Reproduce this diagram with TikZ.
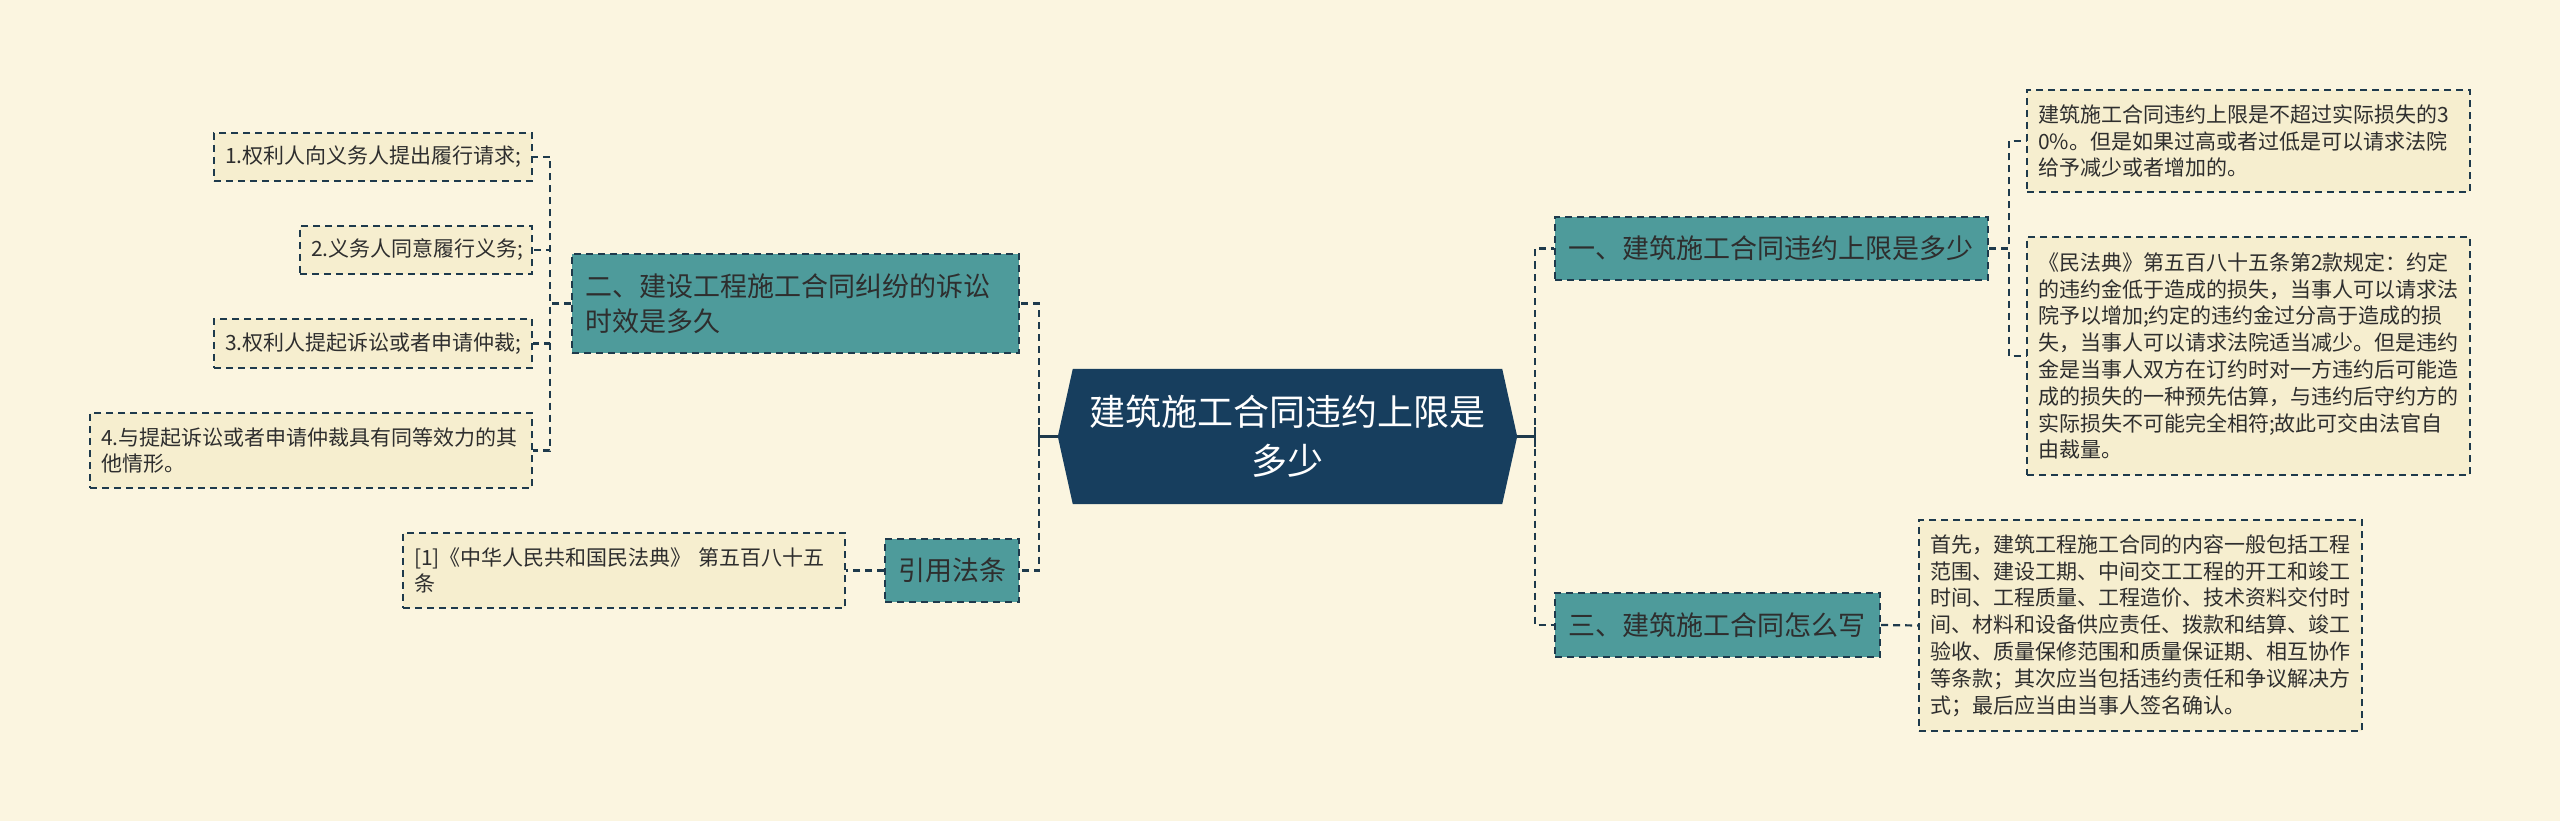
\documentclass[tikz,border=0pt]{standalone}
\usepackage{fontspec}
\setmainfont{Noto Sans CJK SC}
\usetikzlibrary{backgrounds}
\definecolor{bgcol}{HTML}{FBF5E0}
\definecolor{leafcol}{HTML}{F6EECF}
\definecolor{tealcol}{HTML}{4E9B9B}
\definecolor{navycol}{HTML}{173E5E}
\definecolor{linecol}{HTML}{1E3A4C}
\definecolor{txtcol}{HTML}{2E2E2E}
\tikzset{
  leafbox/.style={draw=linecol, line width=2pt, dash pattern=on 7pt off 5pt, fill=leafcol,
    inner xsep=11pt, inner ysep=0pt, align=left, text=txtcol,
    font=\fontsize{21}{26.8}\selectfont},
  branchbox/.style={draw=linecol, line width=2pt, dash pattern=on 7pt off 5pt, fill=tealcol,
    inner xsep=13pt, inner ysep=0pt, align=left, text=txtcol,
    font=\fontsize{27}{35}\selectfont},
  rootbox/.style={inner sep=0pt, align=center, text=white,
    font=\fontsize{36}{49}\selectfont},
  conn/.style={draw=linecol, line width=2.2pt, dash pattern=on 7pt off 5pt},
  stub/.style={draw=linecol, line width=2.4pt}
}
\begin{document}
\begin{tikzpicture}[x=1pt,y=-1pt]
\useasboundingbox (0,0) rectangle (2560,821);

% root
\node[rootbox, minimum width=459pt, minimum height=135pt] (root) at (1287.5,436.5)
  {建筑施工合同违约上限是\\多少};
\begin{scope}[on background layer]
\fill[bgcol] (0,0) rectangle (2560,821);
\fill[navycol] (root.west) -- ([xshift=15pt]root.north west) -- ([xshift=-15pt]root.north east)
  -- (root.east) -- ([xshift=-15pt]root.south east) -- ([xshift=15pt]root.south west) -- cycle;
\end{scope}

% left branches
\node[branchbox, text width=421pt, minimum height=99pt] (b2) at (795.5,303.5)
  {二、建设工程施工合同纠纷的诉讼\\时效是多久};
\node[branchbox, text width=108pt, minimum height=63pt] (ref) at (952,570.5) {引用法条};

% left leaves
\node[leafbox, text width=296pt, minimum height=48pt] (l1) at (373,157) {1.权利人向义务人提出履行请求;};
\node[leafbox, text width=210pt, minimum height=48pt] (l2) at (416,250) {2.义务人同意履行义务;};
\node[leafbox, text width=296pt, minimum height=49pt] (l3) at (373,343.5) {3.权利人提起诉讼或者申请仲裁;};
\node[leafbox, text width=420pt, minimum height=75pt] (l4) at (311,450.5)
  {4.与提起诉讼或者申请仲裁具有同等效力的其\\他情形。};
\node[leafbox, text width=420pt, minimum height=75pt] (r1) at (624,570.5)
  {[1]《中华人民共和国民法典》 第五百八十五\\条};

% right branches
\node[branchbox, text width=407pt, minimum height=63pt] (b1) at (1771.5,248.5) {一、建筑施工合同违约上限是多少};
\node[branchbox, text width=299pt, minimum height=64pt] (b3) at (1717.5,625) {三、建筑施工合同怎么写};

% right leaves
\node[leafbox, text width=421pt, minimum height=102pt] (la) at (2248.5,141)
  {建筑施工合同违约上限是不超过实际损失的3\\0\%。但是如果过高或者过低是可以请求法院\\给予减少或者增加的。};
\node[leafbox, text width=421pt, minimum height=238pt] (lb) at (2248.5,356)
  {《民法典》第五百八十五条第2款规定：约定\\的违约金低于造成的损失，当事人可以请求法\\院予以增加;约定的违约金过分高于造成的损\\失，当事人可以请求法院适当减少。但是违约\\金是当事人双方在订约时对一方违约后可能造\\成的损失的一种预先估算，与违约后守约方的\\实际损失不可能完全相符;故此可交由法官自\\由裁量。};
\node[leafbox, text width=421pt, minimum height=211pt] (lc) at (2140.5,625.5)
  {首先，建筑工程施工合同的内容一般包括工程\\范围、建设工期、中间交工工程的开工和竣工\\时间、工程质量、工程造价、技术资料交付时\\间、材料和设备供应责任、拨款和结算、竣工\\验收、质量保修范围和质量保证期、相互协作\\等条款；其次应当包括违约责任和争议解决方\\式；最后应当由当事人签名确认。};

% connectors from root
\coordinate (jl) at (1039,436.5);
\coordinate (jr) at (1535,436.5);
\draw[stub] (root.west) -- (jl);
\draw[stub] ([yshift=-10pt]jl) -- ([yshift=10pt]jl);
\draw[stub] (root.east) -- (jr);
\draw[stub] ([yshift=-10pt]jr) -- ([yshift=10pt]jr);
\draw[conn] (jl) |- (b2.east);
\draw[conn] (jl) |- (ref.east);
\draw[conn] (jr) |- (b1.west);
\draw[conn] (jr) |- (b3.west);

% secondary connectors
\draw[conn] (b2.west) -- ++(-21,0) |- (l1.east);
\draw[conn] (b2.west) -- ++(-21,0) |- (l2.east);
\draw[conn] (b2.west) -- ++(-21,0) |- (l3.east);
\draw[conn] (b2.west) -- ++(-21,0) |- (l4.east);
\draw[conn] (ref.west) -- (r1.east);
\draw[conn] (b1.east) -- ++(20,0) |- (la.west);
\draw[conn] (b1.east) -- ++(20,0) |- (lb.west);
\draw[conn] (b3.east) -- (lc.west);
\end{tikzpicture}
\end{document}
